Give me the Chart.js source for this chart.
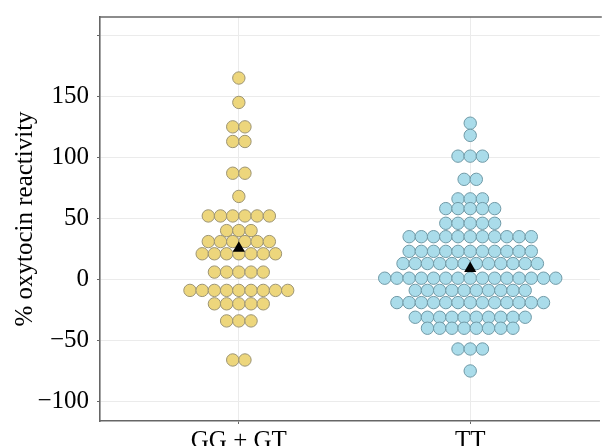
<!DOCTYPE html>
<html>
<head>
<meta charset="utf-8">
<script src="https://cdn.jsdelivr.net/npm/chart.js@4/dist/chart.umd.min.js"></script>
<style>
  body { margin: 0; background: #fff; }
  #wrap { width: 607px; height: 446px; }
</style>
</head>
<body>
<div id="wrap"><canvas id="chart" width="607" height="446"></canvas></div>
<script>
// genotype groups and the % oxytocin reactivity of every subject
const groups = ['GG + GT', 'TT'];
const ggGtValues = [
    165, 145, 125, 125, 113, 113, 87, 87, 68,
    52, 52, 52, 52, 52, 52,
    40, 40, 40,
    31, 31, 31, 31, 31, 31,
    21, 21, 21, 21, 21, 21, 21,
    6, 6, 6, 6, 6,
    -9, -9, -9, -9, -9, -9, -9, -9, -9,
    -20, -20, -20, -20, -20,
    -34, -34, -34,
    -66, -66
];
const ttValues = [
    128, 118, 101, 101, 101, 82, 82, 66, 66, 66,
    58, 58, 58, 58, 58,
    46, 46, 46, 46, 46,
    35, 35, 35, 35, 35, 35, 35, 35, 35, 35, 35,
    23, 23, 23, 23, 23, 23, 23, 23, 23, 23, 23,
    13, 13, 13, 13, 13, 13, 13, 13, 13, 13, 13, 13,
    1, 1, 1, 1, 1, 1, 1, 1, 1, 1, 1, 1, 1, 1, 1,
    -9, -9, -9, -9, -9, -9, -9, -9, -9, -9,
    -19, -19, -19, -19, -19, -19, -19, -19, -19, -19, -19, -19, -19,
    -31, -31, -31, -31, -31, -31, -31, -31, -31, -31,
    -40, -40, -40, -40, -40, -40, -40, -40,
    -57, -57, -57,
    -75
];
const yTicks = [-100, -50, 0, 50, 100, 150, 200];

const step = 0.0528; // horizontal spacing of swarm dots, in x units

// spread equal values side by side around the group centre
function swarm(values, center) {
    const rows = new Map();
    values.forEach(v => rows.set(v, (rows.get(v) || 0) + 1));
    const pts = [];
    rows.forEach((n, v) => {
        for (let i = 0; i < n; i++) {
            pts.push({ x: center + (i - (n - 1) / 2) * step, y: v });
        }
    });
    return pts;
}

function mean(arr) {
    return arr.reduce((a, b) => a + b, 0) / arr.length;
}

const minus = s => String(s).replace('-', '\u2212');

const frame = {
    id: 'frame',
    afterDraw(chart) {
        const { ctx, chartArea } = chart;
        ctx.save();
        ctx.strokeStyle = '#666';
        ctx.lineWidth = 1.6;
        ctx.beginPath();
        ctx.moveTo(chartArea.left - 0.8, chartArea.top);
        ctx.lineTo(chartArea.right + 2, chartArea.top);
        ctx.stroke();
        ctx.restore();
    }
};

const font = { family: 'Liberation Serif', size: 25 };

new Chart(document.getElementById('chart'), {
    type: 'scatter',
    data: {
        datasets: [{
            label: 'mean',
            data: [{ x: 1, y: mean(ggGtValues) }, { x: 2, y: mean(ttValues) }],
            pointStyle: 'triangle',
            pointRadius: 7,
            backgroundColor: '#000',
            borderColor: '#000',
            borderWidth: 0,
            order: 0
        }, {
            label: groups[0],
            data: swarm(ggGtValues, 1),
            pointRadius: 6.2,
            backgroundColor: '#EDD67C',
            borderColor: '#9C9474',
            borderWidth: 1,
            order: 1
        }, {
            label: groups[1],
            data: swarm(ttValues, 2),
            pointRadius: 6.2,
            backgroundColor: '#AADCEA',
            borderColor: '#6F99A6',
            borderWidth: 1,
            order: 1
        }]
    },
    options: {
        responsive: false,
        animation: false,
        layout: { padding: { top: 17, right: 0, left: 0, bottom: 0 } },
        plugins: {
            legend: { display: false },
            tooltip: { enabled: false }
        },
        scales: {
            x: {
                type: 'linear',
                min: 0.4,
                max: 2.56,
                afterBuildTicks: scale => { scale.ticks = [{ value: 1 }, { value: 2 }]; },
                afterFit: scale => {
                    scale.height = 25;
                    scale.paddingLeft = 0;
                    scale.paddingRight = 0;
                },
                grid: { color: '#ebebeb', tickColor: '#666', tickLength: 3, lineWidth: 1 },
                border: { color: '#666', width: 1.6 },
                ticks: {
                    color: '#000',
                    padding: 2,
                    font: font,
                    callback: v => groups[v - 1]
                }
            },
            y: {
                min: -116,
                max: 215,
                afterBuildTicks: scale => { scale.ticks = yTicks.map(v => ({ value: v })); },
                afterFit: scale => {
                    scale.width = 100;
                    scale.paddingTop = 0;
                    scale.paddingBottom = 0;
                },
                grid: { color: '#ebebeb', tickColor: '#666', tickLength: 3, lineWidth: 1 },
                border: { color: '#666', width: 1.6 },
                title: {
                    display: true,
                    text: '% oxytocin reactivity',
                    color: '#000',
                    padding: { top: 10, bottom: 0 },
                    font: font
                },
                ticks: {
                    color: '#000',
                    padding: 8,
                    font: font,
                    callback: v => v === 200 ? '' : minus(v)
                }
            }
        }
    },
    plugins: [frame]
});
</script>
</body>
</html>
